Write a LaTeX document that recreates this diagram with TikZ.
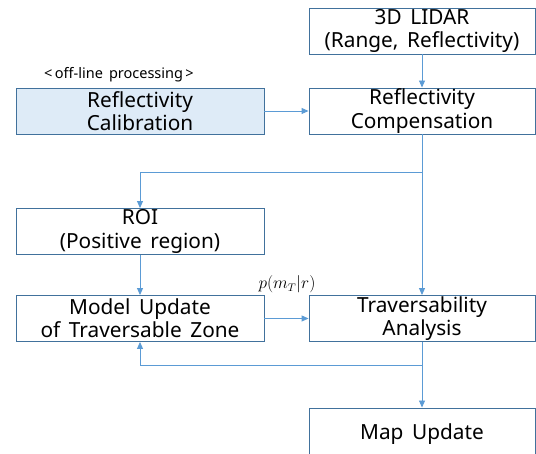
\documentclass[tikz,border=0pt]{standalone}
\usepackage{fontspec}
\setmainfont{Noto Sans}[WordSpace=1.6]
\usetikzlibrary{arrows.meta,positioning}
\definecolor{boxline}{HTML}{41719C}
\definecolor{arrowc}{HTML}{5B9BD5}
\definecolor{calfill}{HTML}{DEEBF7}
\begin{document}
\begin{tikzpicture}[x=1pt,y=1pt,
  box/.style={draw=boxline,line width=0.9pt,minimum width=248pt,minimum height=46pt,
    inner sep=0pt,align=center,font=\fontsize{20.8}{23.3}\selectfont},
  rbox/.style={box,minimum width=226pt},
  conn/.style={draw=arrowc,line width=0.9pt},
  arr/.style={conn,-{Triangle[length=7pt,width=6pt]}}]
\useasboundingbox (0,0) rectangle (536,453);
% y_tikz = 453 - y_ref
\node[rbox] (lidar) at (422,422) {3D LIDAR\\(Range, Reflectivity)};
\node[rbox] (comp) at (422,342) {Reflectivity\\Compensation};
\node[box,fill=calfill] (calib) at (140,342) {Reflectivity\\Calibration};
\node[font=\fontsize{14.5}{16}\selectfont,inner sep=0pt] (offl) at (119,378) {<\,off-line processing\,>};
\node[box] (roi) at (140,221.5) {ROI\\(Positive region)};
\node[box] (model) at (140,134.5) {Model Update\\of Traversable Zone};
\node[rbox] (trav) at (422,134.5) {Traversability\\Analysis};
\node[rbox,minimum height=52pt] (map) at (422,19) {Map Update};
\coordinate (b1) at (422,281);
\coordinate (b2) at (140,281);
\coordinate (f1) at (422,88);
\coordinate (f2) at (140,88);
\node[font=\fontsize{16}{18}\selectfont,inner sep=0pt,anchor=south] (plab) at (287,160) {$p(m_T|r)$};
\draw[arr] (lidar) -- (comp);
\draw[arr] (calib) -- (comp);
\draw[arr] (comp.south) -- (trav.north);
\draw[arr] (b1) -- (b2) -- (roi.north);
\draw[arr] (roi) -- (model);
\draw[arr] (model) -- (trav);
\draw[arr] (trav.south) -- (map.north);
\draw[arr] (f1) -- (f2) -- (model.south);
\end{tikzpicture}
\end{document}
